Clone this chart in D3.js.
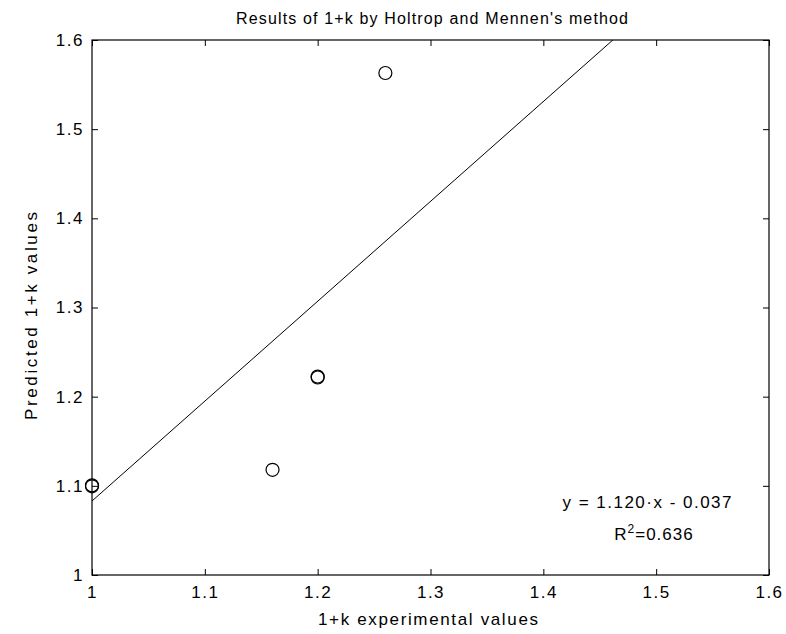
<!DOCTYPE html>
<html>
<head>
<meta charset="utf-8">
<script src="https://cdn.jsdelivr.net/npm/d3@7"></script>
<style>
  body { margin: 0; background: #fff; }
  svg { display: block; font-family: "Liberation Sans", Arial, sans-serif; }
</style>
</head>
<body>
<div id="chart"></div>
<script>
// measured values (the two bold circles are near-duplicate points)
const expValues = [1.0, 1.0, 1.16, 1.2, 1.2, 1.26];
const predValues = [1.0995, 1.1005, 1.118, 1.2215, 1.2225, 1.563];
const fitSlope = 1.120;
const fitIntercept = -0.037;
const rSquared = 0.636;
const xTicks = [1, 1.1, 1.2, 1.3, 1.4, 1.5, 1.6];
const yTicks = [1, 1.1, 1.2, 1.3, 1.4, 1.5, 1.6];

const width = 786, height = 634;
const margin = { top: 40, right: 17, bottom: 59, left: 92 };
const w = width - margin.left - margin.right;
const h = height - margin.top - margin.bottom;

const svg = d3.select('#chart').append('svg')
  .attr('width', width)
  .attr('height', height);

const g = svg.append('g')
  .attr('transform', `translate(${margin.left},${margin.top})`);

const x = d3.scaleLinear().domain([1, 1.6]).range([0, w]);
const y = d3.scaleLinear().domain([1, 1.6]).range([h, 0]);

const fmt = d => (d === 1 ? '1' : d3.format('.1f')(d));

// axes with inward ticks on all four sides
const styleAxis = sel => {
  sel.select('.domain').remove();
  sel.selectAll('line').attr('stroke', '#000');
  sel.selectAll('text').attr('fill', '#000')
    .style('font-size', '17px').style('letter-spacing', '1.5px');
};

g.append('g').attr('transform', `translate(0,${h})`)
  .call(d3.axisBottom(x).tickValues(xTicks).tickSize(-6).tickPadding(11).tickFormat(fmt))
  .call(styleAxis);
g.append('g')
  .call(d3.axisLeft(y).tickValues(yTicks).tickSize(-6).tickPadding(8).tickFormat(fmt))
  .call(styleAxis);
g.append('g')
  .call(d3.axisTop(x).tickValues(xTicks).tickSize(-6).tickFormat(''))
  .call(styleAxis);
g.append('g').attr('transform', `translate(${w},0)`)
  .call(d3.axisRight(y).tickValues(yTicks).tickSize(-6).tickFormat(''))
  .call(styleAxis);

g.append('rect')
  .attr('width', w).attr('height', h)
  .attr('fill', 'none').attr('stroke', '#000').attr('stroke-width', 1.2);

// fit line, clipped to plot box
g.append('clipPath').attr('id', 'clip')
  .append('rect').attr('width', w).attr('height', h);

const xs = [1, 1.6];
g.append('line')
  .attr('clip-path', 'url(#clip)')
  .attr('x1', x(xs[0])).attr('y1', y(fitSlope * xs[0] + fitIntercept))
  .attr('x2', x(xs[1])).attr('y2', y(fitSlope * xs[1] + fitIntercept))
  .attr('stroke', '#000').attr('stroke-width', 1);

// points
g.selectAll('.pt')
  .data(expValues.map((v, i) => [v, predValues[i]]))
  .enter().append('circle')
  .attr('class', 'pt')
  .attr('cx', d => x(d[0]))
  .attr('cy', d => y(d[1]))
  .attr('r', 6.5)
  .attr('fill', 'none')
  .attr('stroke', '#000')
  .attr('stroke-width', 1.2);

// equation text
svg.append('text')
  .attr('x', 647).attr('y', 508)
  .attr('text-anchor', 'middle')
  .attr('textLength', 169).attr('lengthAdjust', 'spacing')
  .style('font-size', '17px')
  .text(`y = ${fitSlope.toFixed(3)}\u00b7x - ${Math.abs(fitIntercept).toFixed(3)}`);

const r2 = svg.append('text')
  .attr('x', 654).attr('y', 540)
  .attr('text-anchor', 'middle')
  .style('font-size', '17px')
  .style('letter-spacing', '1px');
r2.append('tspan').text('R');
r2.append('tspan').attr('dy', -7).style('font-size', '12px').text('2');
r2.append('tspan').attr('dy', 7).text('=' + rSquared.toFixed(3));

// titles
svg.append('text')
  .attr('x', 432).attr('y', 24)
  .attr('text-anchor', 'middle')
  .attr('textLength', 392).attr('lengthAdjust', 'spacing')
  .style('font-size', '16px')
  .text("Results of 1+k by Holtrop and Mennen's method");

svg.append('text')
  .attr('x', 428).attr('y', 625)
  .attr('text-anchor', 'middle')
  .attr('textLength', 220).attr('lengthAdjust', 'spacing')
  .style('font-size', '17px')
  .text('1+k experimental values');

svg.append('text')
  .attr('transform', 'translate(37,316) rotate(-90)')
  .attr('text-anchor', 'middle')
  .attr('textLength', 208).attr('lengthAdjust', 'spacing')
  .style('font-size', '17px')
  .text('Predicted 1+k values');
</script>
</body>
</html>
